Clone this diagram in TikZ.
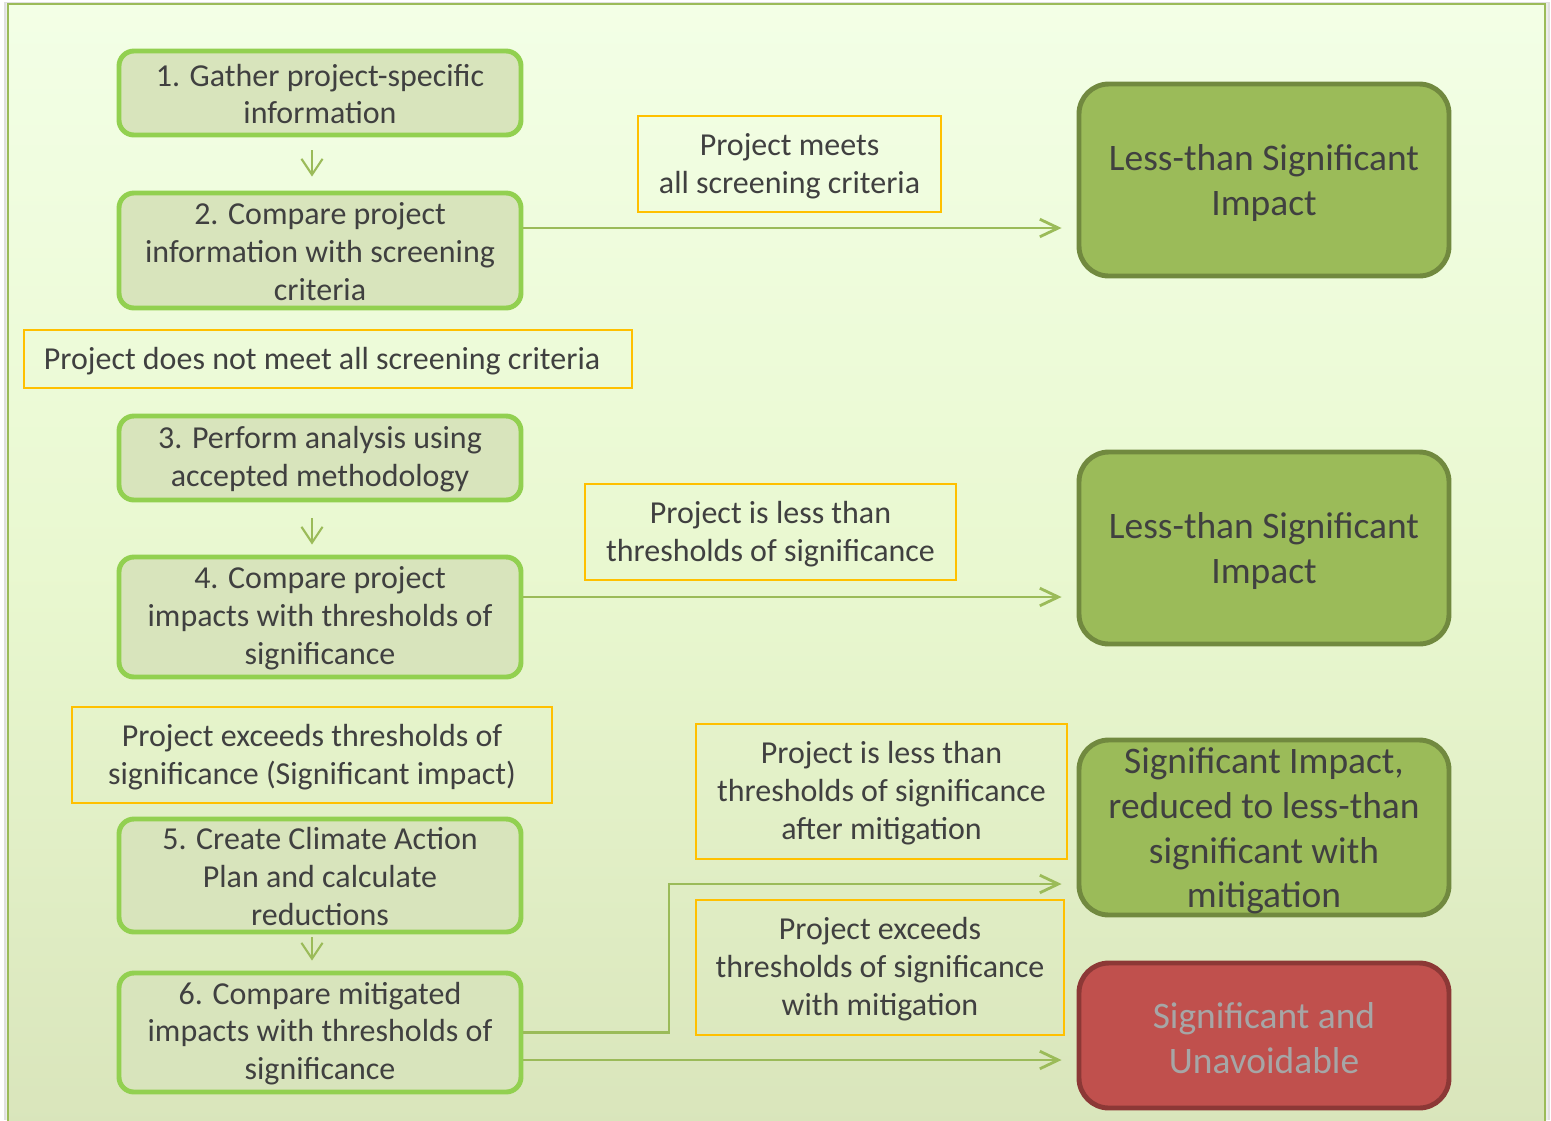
\documentclass[tikz,border=0pt]{standalone}
\usepackage{fontspec}
\setmainfont{Carlito}
\usetikzlibrary{arrows.meta}
\definecolor{txt}{HTML}{404040}
\definecolor{stepfill}{HTML}{D8E4BC}
\definecolor{stepline}{HTML}{92D050}
\definecolor{outfill}{HTML}{9BBB59}
\definecolor{outline}{HTML}{71893F}
\definecolor{redfill}{HTML}{C0504D}
\definecolor{redline}{HTML}{8C3836}
\definecolor{redtxt}{HTML}{A6A6A6}
\definecolor{lbl}{HTML}{FFC000}
\definecolor{arr}{HTML}{9BBB59}
\definecolor{bgtop}{HTML}{F3FFE6}
\definecolor{bgmid}{HTML}{E9F8D0}
\definecolor{bgbot}{HTML}{D9E5BB}
\definecolor{frame}{HTML}{9BBB59}
\newcommand\myBody{\fontsize{18.2}{21.5}\selectfont}
\newcommand\myBig{\fontsize{21.3}{25.5}\selectfont}
\begin{document}
\begin{tikzpicture}[x=0.02cm,y=-0.02cm,
  stepbox/.style={draw=stepline, fill=stepfill, line width=2.8pt, rounded corners=8.5pt,
    minimum width=402*0.02cm, align=center, text=txt, font=\myBody, inner sep=0pt},
  outbox/.style={draw=outline, fill=outfill, line width=2.8pt, rounded corners=17pt,
    minimum width=370*0.02cm, align=center, text=txt, font=\myBig, inner sep=0pt},
  redbox/.style={outbox, draw=redline, fill=redfill, text=redtxt},
  lblbox/.style={draw=lbl, line width=1.1pt, align=center, text=txt, font=\myBody, inner sep=0pt},
  txt/.style={text=txt, align=center, inner sep=0pt},
  flow/.style={draw=arr, line width=1.6pt, -{Straight Barb[length=10.5pt,width=10pt,line width=1.6pt]}},
  downflow/.style={draw=arr, line width=1.2pt, -{Straight Barb[length=9pt,width=12pt,line width=1.2pt]}}
]
\useasboundingbox (0,0) rectangle (1551,1120);
\fill[white] (0,0) rectangle (1551,1120);
% shadow
\fill[black!12] (4,2) rectangle (1550,1120);
\fill[black!7] (6,3) rectangle (1548,1120);
% background panel
\shade[top color=bgtop, bottom color=bgbot, middle color=bgmid, draw=frame, line width=1.2pt]
  (8,4) rectangle (1545,1130);

% left step boxes (frames)
\node[stepbox, minimum height=84*0.02cm] (b1) at (320,93) {};
\node[stepbox, minimum height=115*0.02cm] (b2) at (320,250.5) {};
\node[stepbox, minimum height=84*0.02cm] (b3) at (320,458) {};
\node[stepbox, minimum height=120*0.02cm] (b4) at (320,617) {};
\node[stepbox, minimum height=113*0.02cm] (b5) at (320,875.5) {};
\node[stepbox, minimum height=119*0.02cm] (b6) at (320,1032.5) {};
% step texts
\node[txt, font=\myBody] (t1) at (320,94) {1. Gather project-specific\\information};
\node[txt, font=\myBody] (t2) at (320,251.5) {2. Compare project\\information with screening\\criteria};
\node[txt, font=\myBody] (t3) at (320,459) {3. Perform analysis using\\accepted methodology};
\node[txt, font=\myBody] (t4) at (320,618) {4. Compare project\\impacts with thresholds of\\significance};
\node[txt, font=\myBody] (t5) at (320,876.5) {5. Create Climate Action\\Plan and calculate\\reductions};
\node[txt, font=\myBody] (t6) at (320,1033.5) {6. Compare mitigated\\impacts with thresholds of\\significance};

% outcome boxes
\node[outbox, minimum height=192*0.02cm] (r1) at (1264,180) {};
\node[outbox, minimum height=192*0.02cm] (r2) at (1264,548) {};
\node[outbox, minimum height=175*0.02cm] (r3) at (1264,827.5) {};
\node[redbox, minimum height=145*0.02cm] (r4) at (1264,1035.5) {};
\node[txt, font=\myBig] (r1t) at (1264,183) {Less-than Significant\\Impact};
\node[txt, font=\myBig] (r2t) at (1264,551) {Less-than Significant\\Impact};
\node[txt, font=\myBig] (r3t) at (1264,831) {Significant Impact,\\reduced to less-than\\significant with\\mitigation};
\node[txt, font=\myBig, text=redtxt] (r4t) at (1264,1038) {Significant and\\Unavoidable};

% condition labels
\node[lblbox, minimum width=303*0.02cm, minimum height=96*0.02cm] (l1) at (789.5,164) {};
\node[lblbox, minimum width=608*0.02cm, minimum height=58*0.02cm] (l2) at (328,359) {};
\node[lblbox, minimum width=371*0.02cm, minimum height=96*0.02cm] (l3) at (770.5,532) {};
\node[lblbox, minimum width=480*0.02cm, minimum height=96*0.02cm] (l4) at (312,755) {};
\node[lblbox, minimum width=371*0.02cm, minimum height=135*0.02cm] (l5) at (881.5,791.5) {};
\node[lblbox, minimum width=368*0.02cm, minimum height=135*0.02cm] (l6) at (880,967.5) {};
\node[txt, font=\myBody] (l1t) at (789.5,166) {Project meets\\all screening criteria};
\node[txt, font=\myBody] (l2t) at (322,361) {Project does not meet all screening criteria};
\node[txt, font=\myBody] (l3t) at (770.5,534) {Project is less than\\thresholds of significance};
\node[txt, font=\myBody] (l4t) at (312,757) {Project exceeds thresholds of\\significance (Significant impact)};
\node[txt, font=\myBody] (l5t) at (881.5,793) {Project is less than\\thresholds of significance\\after mitigation};
\node[txt, font=\myBody] (l6t) at (880,969) {Project exceeds\\thresholds of significance\\with mitigation};

% down arrows
\draw[downflow, shorten <=13*0.02cm, shorten >=14*0.02cm] ([xshift=-8*0.02cm]b1.south) -- ([xshift=-8*0.02cm]b2.north);
\draw[downflow, shorten <=16*0.02cm, shorten >=10*0.02cm] ([xshift=-8*0.02cm]b3.south) -- ([xshift=-8*0.02cm]b4.north);
\draw[downflow, shorten <=3*0.02cm, shorten >=10*0.02cm] ([xshift=-8*0.02cm]b5.south) -- ([xshift=-8*0.02cm]b6.north);

% horizontal arrows
\coordinate (a1s) at ([yshift=22.5*0.02cm]b2.east);
\draw[flow, shorten >=15*0.02cm] (a1s) -- (a1s -| r1.west);
\coordinate (a2s) at ([yshift=20*0.02cm]b4.east);
\draw[flow, shorten >=15*0.02cm] (a2s) -- (a2s -| r2.west);
\coordinate (a3m) at (669,884);
\draw[flow, shorten >=15*0.02cm] (b6.east) -| (a3m) -- (a3m -| r3.west);
\coordinate (a4s) at ([yshift=-27.5*0.02cm]b6.east);
\draw[flow, shorten >=15*0.02cm] (a4s) -- (a4s -| r4.west);
\end{tikzpicture}
\end{document}
